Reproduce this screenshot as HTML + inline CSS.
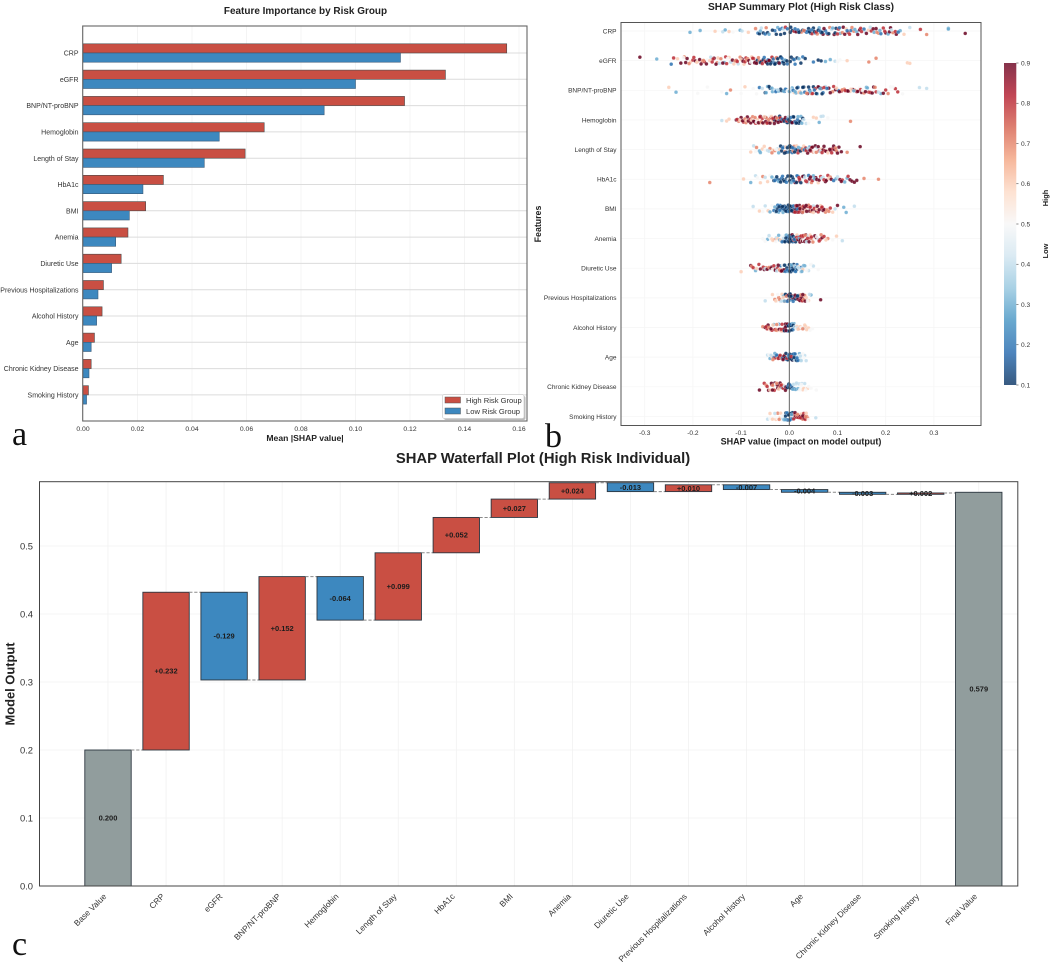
<!DOCTYPE html>
<html>
<head>
<meta charset="utf-8">
<title>SHAP feature importance figure</title>
<style>
html,body{margin:0;padding:0;background:#fff;}
body{width:1052px;height:964px;overflow:hidden;}
svg{display:block;filter:blur(0.3px);}
text{font-family:"Liberation Sans",Arial,sans-serif;}
.letter{font-family:"Liberation Serif","Times New Roman",serif;fill:#111;}
</style>
</head>
<body>
<svg id="figure" xmlns="http://www.w3.org/2000/svg" width="1052" height="964" viewBox="0 0 1052 964">
  <defs>
    <linearGradient id="rdbu" x1="0" y1="1" x2="0" y2="0">
      <stop offset="0" stop-color="#053061"/><stop offset="0.1" stop-color="#2166ac"/>
      <stop offset="0.2" stop-color="#4393c3"/><stop offset="0.3" stop-color="#92c5de"/>
      <stop offset="0.4" stop-color="#d1e5f0"/><stop offset="0.5" stop-color="#f7f7f7"/>
      <stop offset="0.6" stop-color="#fddbc7"/><stop offset="0.7" stop-color="#f4a582"/>
      <stop offset="0.8" stop-color="#d6604d"/><stop offset="0.9" stop-color="#b2182b"/>
      <stop offset="1" stop-color="#67001f"/>
    </linearGradient>
  </defs>
  <rect width="1052" height="964" fill="#fff"/>

  <g id="panelA"></g>
  <text x="305.5" y="14" text-anchor="middle" font-size="9.96" font-weight="bold" fill="#222">Feature Importance by Risk Group</text>
  <text x="305" y="441" text-anchor="middle" font-size="8.6" font-weight="bold" fill="#222">Mean |SHAP value|</text>
  <g>
    <rect x="444" y="396" width="81.5" height="24" rx="2" fill="#bbb"/>
    <rect x="442.5" y="394.5" width="81.5" height="24" rx="2" fill="#fff" stroke="#ccc" stroke-width="0.7"/>
    <rect x="445" y="397" width="15.5" height="6" fill="#c94f43" stroke="#555" stroke-width="0.5"/>
    <text x="466" y="403" font-size="7.6" fill="#333">High Risk Group</text>
    <rect x="445" y="408" width="15.5" height="6" fill="#3d88bf" stroke="#555" stroke-width="0.5"/>
    <text x="466" y="414" font-size="7.6" fill="#333">Low Risk Group</text>
  </g>

  <g id="panelB"></g>
  <text x="801" y="10" text-anchor="middle" font-size="10.2" font-weight="bold" fill="#222">SHAP Summary Plot (High Risk Class)</text>
  <text x="801" y="444.5" text-anchor="middle" font-size="9" font-weight="bold" fill="#222">SHAP value (impact on model output)</text>
  <text transform="translate(541,224) rotate(-90)" text-anchor="middle" font-size="8.8" font-weight="bold" fill="#222">Features</text>
  <text transform="translate(1048,198) rotate(-90)" text-anchor="middle" font-size="7.4" font-weight="bold" fill="#222">High</text>
  <text transform="translate(1048,251) rotate(-90)" text-anchor="middle" font-size="7.4" font-weight="bold" fill="#222">Low</text>

  <g id="panelC"></g>
  <text x="543" y="463" text-anchor="middle" font-size="14.8" font-weight="bold" fill="#222">SHAP Waterfall Plot (High Risk Individual)</text>
  <text transform="translate(14.5,684) rotate(-90)" text-anchor="middle" font-size="12.9" font-weight="bold" fill="#222">Model Output</text>

  <text class="letter" x="12" y="445" font-size="34">a</text>
  <text class="letter" x="545" y="447" font-size="34">b</text>
  <text class="letter" x="12" y="955" font-size="34">c</text>
</svg>

<script>
const featureNames = ["CRP","eGFR","BNP/NT-proBNP","Hemoglobin","Length of Stay","HbA1c","BMI","Anemia","Diuretic Use","Previous Hospitalizations","Alcohol History","Age","Chronic Kidney Disease","Smoking History"];

/* Panel a */
const highRiskImportance = [.1555,.133,.118,.0665,.0595,.0295,.023,.0165,.014,.0075,.007,.0042,.003,.002];
const lowRiskImportance = [.1165,.100,.0885,.050,.0445,.022,.017,.012,.0105,.0055,.005,.003,.0022,.0013];
const importanceTicks = [0,.02,.04,.06,.08,.10,.12,.14,.16];

/* Panel b: SHAP values, and feature values in tenths */
const shapCRP = [-.206,-.185,-.154,-.138,-.133,-.125,-.117,-.102,-.098,-.085,-.07,-.065,-.062,-.058,-.054,-.05,-.048,-.045,-.042,-.03,-.027,-.024,-.02,-.018,-.015,-.012,-.01,-.008,-.004,.002,.006,.01,.014,.018,.022,.025,.028,.032,.036,.04,.044,.047,.05,.054,.058,.062,.066,.07,.075,.08,.084,.088,.093,.097,.102,.106,.112,.118,.122,.128,.134,.14,.146,.15,.158,.164,.17,.176,.18,.185,.19,.195,.2,.205,.21,.215,.222,.23,.238,.25,.272,.285,.33,.33,.365,
.003,.012,.02,.03,.038,.042,.046,.052,.056,.06,.064,.068,.072,.078,.082,.09,.095,.1,.104,.11,.115,.12,.125,.13,.136,.142,.148,.155,.16,.168,.174,.182,.188,.198,.208,.212,.22,.226,-.035,-.06];
const featCRP = [3,3,6,4,3,6,5,3,4,6,7,2,1,4,1,2,7,1,3,2,1,3,2,1,2,4,1,8,2,1,1,8,9,2,1,7,1,9,2,1,2,8,1,2,7,3,1,9,2,8,7,4,9,1,8,3,9,6,8,2,7,3,9,8,4,6,8,3,9,7,2,8,9,3,9,7,9,3,6,4,8,7,3,3,9,
1,2,1,7,2,1,2,1,8,1,2,1,9,2,1,3,1,8,2,7,9,2,8,7,3,9,8,2,9,4,9,7,3,8,9,4,8,2,1,3];
const shapEGFR = [-.31,-.275,-.245,-.24,-.232,-.225,-.218,-.212,-.205,-.2,-.195,-.19,-.186,-.18,-.176,-.17,-.165,-.16,-.156,-.15,-.145,-.14,-.135,-.13,-.125,-.12,-.115,-.11,-.106,-.102,-.098,-.094,-.09,-.086,-.082,-.078,-.074,-.07,-.066,-.062,-.058,-.054,-.05,-.047,-.044,-.041,-.038,-.035,-.032,-.029,-.026,-.023,-.02,-.017,-.014,-.011,-.008,-.004,.004,.008,.012,.016,.02,.024,.028,.033,.05,.06,.066,.075,.085,.095,.1,.105,.12,.165,.18,.245,.25,
-.22,-.215,-.208,-.198,-.192,-.183,-.178,-.172,-.163,-.158,-.152,-.148,-.142,-.138,-.132,-.128,-.122,-.118,-.112,-.108,-.1,-.096,-.092,-.088,-.084,-.08,-.076,-.072,-.068,-.064,-.06,-.056,-.052,-.048,-.045,-.042,-.039,-.036,-.033,-.03,-.027,-.024,-.021,-.018,-.015,-.012,-.009,-.005,.002,.01];
const featEGFR = [9,3,2,8,6,9,7,9,6,8,9,6,9,7,8,5,6,8,9,7,4,5,3,8,6,4,6,8,4,7,9,6,8,7,9,6,8,9,1,7,9,1,8,1,2,9,1,7,2,1,8,1,3,1,2,1,1,2,1,1,2,1,3,1,2,1,2,1,1,3,3,4,5,5,6,7,7,6,6,
5,9,7,8,6,9,7,9,4,8,9,6,7,9,8,5,4,9,7,8,6,9,8,7,9,5,8,10,9,7,1,8,2,9,1,10,1,8,2,1,7,1,9,1,2,1,3,1,1,2];
const shapBNP = [-.25,-.235,-.19,-.17,-.14,-.13,-.122,-.1,-.092,-.075,-.068,-.062,-.056,-.05,-.045,-.04,-.035,-.03,-.026,-.022,-.018,-.014,-.01,-.006,-.002,.002,.006,.01,.014,.018,.022,.026,.03,.034,.038,.042,.046,.05,.054,.058,.062,.066,.07,.075,.082,.09,.096,.102,.108,.114,.12,.126,.132,.136,.14,.146,.15,.155,.16,.165,.17,.175,.18,.19,.2,.205,.21,.22,.235,.27,.285,
-.048,-.042,-.036,-.028,-.024,-.016,-.012,-.008,-.004,0,.004,.008,.012,.016,.02,.024,.028,.032,.036,.04,.044,.048,.052,.056,.06,.064,.068,.072,.078,.085,.092,.098,.104,.11,.116,.122,.128,.134,.142,.148,.152,.158,.162,.168,.172,.178,.185,.195,.215,.225];
const featBNP = [6,3,5,5,5,3,7,5,6,5,5,2,4,1,3,1,3,4,2,3,1,6,2,3,5,4,3,6,3,2,7,4,1,6,9,2,7,1,8,3,1,9,2,4,9,7,9,2,8,7,9,6,9,7,8,5,9,7,3,8,4,9,8,3,8,7,5,8,5,4,4,
3,1,3,2,4,1,3,2,5,3,4,2,3,1,6,3,1,2,7,1,3,8,2,1,9,3,1,8,2,9,8,6,9,7,8,9,6,3,9,8,5,9,3,8,9,7,4,9,5,8];
const shapHb = [-.14,-.13,-.125,-.11,-.105,-.1,-.095,-.09,-.087,-.083,-.08,-.076,-.073,-.07,-.066,-.063,-.06,-.056,-.053,-.05,-.047,-.044,-.041,-.038,-.035,-.032,-.03,-.027,-.024,-.021,-.018,-.016,-.013,-.011,-.008,-.006,-.004,-.002,.002,.005,.008,.011,.014,.017,.02,.024,.028,.035,.05,.056,.062,.07,.08,.127,
-.108,-.102,-.097,-.092,-.088,-.085,-.081,-.078,-.074,-.071,-.068,-.064,-.061,-.058,-.055,-.052,-.049,-.046,-.043,-.04,-.037,-.034,-.031,-.029,-.026,-.023,-.02,-.019,-.017,-.015,-.012,-.01,-.009,-.007,-.005,-.003,-.001,.001,.003,.004,.006,.009,.012,.015,.018,.022,.026,.03,.04,.066];
const featHb = [4,6,6,9,7,9,8,7,9,6,9,7,9,8,6,7,9,8,6,9,7,9,5,8,6,9,1,9,7,2,9,1,8,1,9,2,1,4,1,2,1,8,1,2,1,3,1,4,6,6,3,4,5,7,
8,6,9,7,6,9,8,6,9,7,5,9,8,7,9,6,10,8,7,9,6,8,9,10,7,9,1,8,10,2,9,1,10,1,8,2,1,1,2,1,9,1,2,1,3,1,3,4,5,4];
const shapLOS = [-.08,-.074,-.068,-.062,-.056,-.05,-.045,-.04,-.034,-.03,-.025,-.02,-.016,-.012,-.009,-.006,-.003,.002,.006,.01,.014,.018,.022,.026,.03,.034,.038,.042,.046,.05,.054,.058,.062,.066,.07,.074,.078,.082,.086,.09,.094,.098,.103,.108,.12,.147,
-.07,-.06,-.052,-.042,-.036,-.028,-.022,-.018,-.014,-.01,-.007,-.004,-.001,.001,.004,.008,.012,.016,.02,.024,.028,.032,.036,.04,.044,.048,.052,.056,.06,.064,.068,.072,.076,.08,.084,.088,.092,.096,.1,.003,.007,.011,.015,.019,.023,.027,.031,.035,.039,.043];
const featLOS = [6,4,7,3,6,5,4,7,6,7,4,6,1,2,7,1,3,1,2,7,4,8,2,5,6,8,9,3,8,7,9,4,8,6,9,8,5,6,9,8,9,7,9,9,7,10,
5,3,6,4,7,5,3,1,2,1,6,1,2,1,1,7,2,1,8,3,7,6,1,2,8,9,5,7,9,4,8,10,9,6,9,8,10,7,9,1,2,1,6,3,1,7,2,8,4,9];
const shapHbA1c = [-.165,-.095,-.08,-.07,-.066,-.06,-.055,-.05,-.045,-.04,-.036,-.032,-.028,-.024,-.02,-.016,-.012,-.008,-.005,-.002,.002,.006,.01,.014,.018,.022,.026,.03,.034,.038,.042,.046,.05,.055,.06,.065,.07,.075,.08,.085,.09,.097,.105,.11,.12,.126,.14,.155,.185,
-.03,-.026,-.022,-.018,-.014,-.01,-.006,-.003,.001,.004,.008,.012,.016,.02,.024,.028,.032,.036,.04,.044,.048,.052,.057,.062,.067,.072,.077,.082,.087,.092,.1,.108,.115,.122,.13,.135,.003,.009,.015,.021];
const featHbA1c = [7,6,3,4,5,6,7,4,6,5,3,1,3,2,1,2,1,3,1,5,2,1,4,8,2,9,5,1,8,4,9,7,3,9,6,8,4,9,8,7,5,3,9,8,3,9,9,7,7,
2,1,3,1,2,1,2,1,1,3,1,9,2,8,1,9,4,8,2,9,8,3,10,9,4,8,10,6,9,2,4,9,3,8,9,9,1,2,1,8];
const shapBMI = [-.075,-.062,-.055,-.05,-.044,-.04,-.036,-.032,-.028,-.025,-.022,-.019,-.016,-.013,-.01,-.008,-.005,-.002,.001,.004,.007,.01,.013,.016,.019,.022,.026,.03,.034,.038,.042,.046,.05,.055,.06,.065,.07,.075,.08,.09,.1,.113,.118,.135,
-.03,-.027,-.024,-.021,-.018,-.015,-.012,-.009,-.006,-.004,-.002,0,.002,.003,.005,.006,.008,.009,.011,.012,.014,.015,.017,.018,.02,.021,.024,.027,.029,.032,.036,.04,.044,.048,.052,.057,.062,.067,.072,.078,.085,.095,-.02,-.014,-.007,-.001,.001,.004,.01,.016,.005,.012,.022,.028,.035,.043,.05,.058,.068,.082];
const featBMI = [4,6,5,4,6,3,5,2,4,1,3,2,1,3,1,2,1,1,2,1,8,2,1,9,3,8,7,9,6,8,9,7,4,9,8,6,9,7,5,6,9,3,3,4,
3,1,2,1,3,1,2,1,1,2,1,1,2,1,1,8,1,2,9,1,8,1,9,2,8,9,7,9,8,9,9,7,8,9,8,6,9,8,9,7,8,4,2,1,1,2,1,1,9,9,1,8,9,7,9,8,6,9,8,7];
const shapAnemia = [-.055,-.045,-.04,-.036,-.03,-.027,-.024,-.02,-.017,-.014,-.011,-.008,-.005,-.002,.001,.004,.007,.01,.013,.016,.019,.022,.025,.028,.031,.034,.037,.04,.044,.048,.052,.056,.06,.064,.068,.08,.09,.098,.11,
-.05,-.042,-.034,-.028,-.022,-.018,-.015,-.012,-.009,-.006,-.003,0,.002,.003,.005,.006,.008,.009,.011,.012,.014,.015,.017,.018,.02,.021,.023,.024,.026,.027,.029,.03,.032,.033,.035,.036,.038,.041,.043,.046,.049,.053,.057,.062,.066,.072,.076,-.007,.001,.01];
const featAnemia = [5,3,5,6,7,4,6,3,5,2,1,4,2,1,1,9,2,8,1,6,3,9,7,8,5,9,4,6,8,7,5,9,4,8,9,7,5,6,4,
5,4,6,5,3,6,2,4,1,3,2,1,1,2,1,9,1,8,2,9,1,8,7,9,8,3,9,8,6,9,8,5,9,7,9,4,8,9,6,8,7,9,5,8,7,8,6,1,1,2];
const shapDiuretic = [-.1,-.08,-.078,-.07,-.063,-.057,-.052,-.048,-.044,-.04,-.037,-.034,-.03,-.027,-.024,-.021,-.018,-.015,-.012,-.009,-.006,-.003,.001,.004,.007,.01,.013,.016,.02,.024,.03,.034,.04,.046,.05,.06,
-.075,-.068,-.06,-.054,-.05,-.046,-.042,-.038,-.035,-.032,-.029,-.026,-.023,-.02,-.017,-.014,-.011,-.008,-.005,-.002,0,.002,.003,.005,.006,.008,.009,.011,.012,.014,.015,.017,.018,.021,.022,.025,.027,.028,.032,.036,-.016,-.01,-.004,.001,.004,.007,.013,.019,.026,.044];
const featDiuretic = [6,9,7,3,8,5,9,7,8,4,9,6,9,4,8,6,2,9,1,3,1,4,1,2,5,1,3,2,6,4,3,5,4,5,4,5,
8,6,9,8,4,9,7,9,5,8,9,4,9,7,8,5,9,2,1,3,1,2,1,3,1,2,1,4,1,2,3,1,4,3,5,2,4,6,3,5,9,1,2,1,3,1,2,4,3,5];
const shapPrev = [-.05,-.035,-.03,-.026,-.022,-.018,-.015,-.012,-.01,-.007,-.004,-.002,.001,.003,.005,.008,.01,.012,.015,.017,.02,.023,.026,.029,.032,.036,.04,.045,.065,
-.028,-.024,-.02,-.016,-.013,-.01,-.008,-.006,-.004,-.002,0,.001,.002,.004,.005,.006,.007,.009,.01,.011,.013,.014,.016,.018,.019,.021,.022,.024,.025,.027,.028,.03,.033,.035,.038,.042,.003,.008,.012,.017];
const featPrev = [4,6,7,5,7,4,6,3,7,1,4,9,1,2,9,1,8,2,1,9,3,8,9,9,7,4,6,3,10,
6,5,7,4,6,3,1,7,2,9,1,3,1,9,2,1,8,1,2,9,1,8,2,9,3,8,9,7,9,8,9,7,9,6,5,4,1,2,9,1];
const shapAlcohol = [-.055,-.05,-.046,-.044,-.04,-.036,-.032,-.028,-.025,-.022,-.019,-.016,-.013,-.01,-.008,-.006,-.003,.001,.004,.007,.01,.014,.018,.022,.026,.03,.034,.04,.048,
-.048,-.042,-.038,-.034,-.03,-.027,-.024,-.021,-.018,-.015,-.012,-.01,-.008,-.006,-.004,-.002,0,.002,.003,.005,.006,.008,.009,.011,.012,.014,.016,.017,.02,.023,.025,.028,.032,.036,.043,-.026,-.017,-.007,.001,.018];
const featAlcohol = [7,9,8,9,6,8,3,7,6,2,8,7,5,10,9,1,2,1,1,2,3,5,6,6,7,4,6,6,5,
8,7,9,6,8,7,5,9,6,8,9,1,10,2,9,1,1,2,1,1,3,1,2,4,3,5,6,4,7,6,5,7,6,6,5,7,8,10,2,6];
const shapAge = [-.045,-.04,-.036,-.032,-.03,-.027,-.024,-.021,-.018,-.015,-.012,-.009,-.006,-.003,.001,.004,.007,.01,.013,.016,.02,.024,.028,.032,.035,
-.042,-.038,-.034,-.03,-.026,-.023,-.02,-.017,-.014,-.011,-.008,-.005,-.002,0,.002,.003,.005,.006,.008,.009,.011,.012,.014,.015,.017,.018,.021,.022,.025,.027,-.019,-.013,-.007,-.001,.001,.004,.01,.016,.023,.03];
const featAge = [4,3,6,2,8,2,7,9,6,3,9,7,2,1,1,2,9,1,3,2,4,3,5,4,4,
5,4,7,3,2,8,9,7,2,9,1,8,3,1,2,1,9,1,2,1,4,2,3,1,4,2,3,5,4,5,8,9,1,2,1,8,1,2,4,5];
const shapCKD = [-.062,-.052,-.048,-.043,-.04,-.036,-.033,-.03,-.027,-.024,-.021,-.018,-.015,-.012,-.009,-.006,-.003,.001,.004,.008,.012,.016,.02,.024,.028,.032,.038,.056,
-.046,-.04,-.037,-.034,-.031,-.028,-.025,-.022,-.019,-.016,-.013,-.01,-.007,-.004,-.002,0,.002,.003,.005,.006,.009,.01,.013,.014,.018,.022,.026,.03,.034,.04,-.035,-.026,-.017,-.008,-.001,.001,.007,.015,.025,.045];
const featCKD = [10,8,7,9,5,8,6,9,4,9,7,8,3,6,9,1,2,1,3,4,3,5,4,5,6,4,6,5,
8,6,9,7,8,5,9,6,10,7,8,4,9,1,2,1,1,3,2,1,4,2,3,4,3,5,4,6,5,5,9,7,8,9,1,2,3,4,5,5];
const shapSmoking = [-.045,-.04,-.033,-.028,-.024,-.02,-.016,-.012,-.009,-.007,-.005,-.003,-.001,.001,.003,.005,.008,.011,.014,.017,.02,.023,.026,.029,.032,.036,.055,.001,
-.04,-.035,-.03,-.025,-.021,-.018,-.014,-.011,-.008,-.006,-.004,-.002,0,.002,.004,.006,.007,.009,.01,.012,.013,.015,.016,.018,.019,.021,.022,.024,.025,.027,.028,.03,.031,.033,.035,.038,.04,-.015,-.009,-.005,-.001,.001,.003,.005,.009,.012,.017,.023,.028,.034];
const featSmoking = [4,6,5,6,7,6,5,4,2,1,3,1,2,1,2,3,8,7,9,8,7,9,8,7,6,7,4,10,
5,6,4,5,7,6,4,3,1,2,3,1,2,2,1,2,1,8,3,7,9,8,7,9,8,7,9,8,6,9,7,8,9,8,6,7,5,5,3,2,1,2,1,3,8,9,7,8,9,7];
const jitterOffsets = [.05,-.09,.12,-.02,.08,-.13,.01,.1,-.06,.03,-.11,.13,-.04,.07,-.1,.02,.11,-.07,.04,-.12,.09,-.03,.06,-.14,0,.12,-.08,.05,-.01];
const summaryTicks = [-.3,-.2,-.1,0,.1,.2,.3];
const colorbarTicks = [.1,.2,.3,.4,.5,.6,.7,.8,.9];

/* Panel c */
const waterfallNames = ["Base Value","CRP","eGFR","BNP/NT-proBNP","Hemoglobin","Length of Stay","HbA1c","BMI","Anemia","Diuretic Use","Previous Hospitalizations","Alcohol History","Age","Chronic Kidney Disease","Smoking History","Final Value"];
const baseValue = .200;
const contributions = [.232,-.129,.152,-.064,.099,.052,.027,.024,-.013,.010,-.007,-.004,-.003,.002];
const finalValue = .579;
const outputTicks = [0,.1,.2,.3,.4,.5];

const NS = "http://www.w3.org/2000/svg";
function mk(parent, tag, attrs, txt) {
  const el = document.createElementNS(NS, tag);
  for (const k in attrs) el.setAttribute(k, attrs[k]);
  if (txt !== undefined) el.textContent = txt;
  parent.appendChild(el);
  return el;
}
const RED = "#c94f43", BLUE = "#3d88bf", GREY = "#919d9d", EDGE = "#2c3640";

/* ---------- Panel a ---------- */
const gA = document.getElementById("panelA");
const ax = v => 83 + v * 2725;
const ay = i => 53 + i * 26.3;
importanceTicks.forEach(t => {
  const g = mk(gA, "line", {x1: ax(t), x2: ax(t), y1: 26, y2: 421, stroke: "#f0f0f0", "stroke-width": .7});
  
  
  const l = mk(gA, "text", {x: ax(t), y: 431, "text-anchor": "middle", "font-size": 6.8, fill: "#333"}, t.toFixed(2));
  
  
});
featureNames.forEach((n, i) => {
  const g = mk(gA, "line", {x1: 83, x2: 527, y1: ay(i), y2: ay(i), stroke: "#dcdcdc", "stroke-width": 1});
  
  
  const hi = mk(gA, "rect", {x: ax(0), y: ay(i) - 9.2, width: ax(highRiskImportance[i]) - ax(0), height: 9.2, fill: RED, stroke: "#4a4a4a", "stroke-width": .6});
  
  
  const lo = mk(gA, "rect", {x: ax(0), y: ay(i), width: ax(lowRiskImportance[i]) - ax(0), height: 9.2, fill: BLUE, stroke: "#3a5a78", "stroke-width": .6});
  
  
  const l = mk(gA, "text", {x: 78.5, y: ay(i) + 2.6, "text-anchor": "end", "font-size": 7, fill: "#333"}, n);
  
  
});
const frameA = mk(gA, "rect", {x: 82.7, y: 26, width: 444.3, height: 395, fill: "none", stroke: "#666", "stroke-width": 1.1});



/* ---------- Panel b ---------- */
const gB = document.getElementById("panelB");
const bx = v => 789.3 + v * 482;
const by = i => 31 + i * 29.65;
const cmapStops = [[5,48,97],[33,102,172],[67,147,195],[146,197,222],[209,229,240],[247,247,247],[253,219,199],[244,165,130],[214,96,77],[178,24,43],[103,0,31]];
function cmap(v) {
  const t = Math.max(0, Math.min(1, (v - .1) / .8)) * 10;
  const i = Math.min(9, Math.floor(t)), f = t - i;
  const a = cmapStops[i], b = cmapStops[i + 1];
  return "rgb(" + a.map((c, k) => Math.round(c + (b[k] - c) * f)).join(",") + ")";
}
summaryTicks.forEach(t => {
  const g = mk(gB, "line", {x1: bx(t), x2: bx(t), y1: 22, y2: 425.5, stroke: "#f5f5f5", "stroke-width": .7});
  
  
  const l = mk(gB, "text", {x: bx(t), y: 435, "text-anchor": "middle", "font-size": 6.6, fill: "#333"}, t.toFixed(1));
  
  
});
const shapRows = [shapCRP,shapEGFR,shapBNP,shapHb,shapLOS,shapHbA1c,shapBMI,shapAnemia,shapDiuretic,shapPrev,shapAlcohol,shapAge,shapCKD,shapSmoking];
const featRows = [featCRP,featEGFR,featBNP,featHb,featLOS,featHbA1c,featBMI,featAnemia,featDiuretic,featPrev,featAlcohol,featAge,featCKD,featSmoking];
featureNames.forEach((n, r) => {
  const g = mk(gB, "line", {x1: 621, x2: 981, y1: by(r), y2: by(r), stroke: "#f5f5f5", "stroke-width": .7});
  
  
  const l = mk(gB, "text", {x: 616.5, y: by(r) + 2.3, "text-anchor": "end", "font-size": 6.5, fill: "#333"}, n);
  
  
});
shapRows.forEach((vals, r) => {
  const feats = featRows[r];
  vals.forEach((v, i) => {
    const f = feats[i % feats.length] / 10;
    const j = jitterOffsets[(i * 3 + r * 5) % jitterOffsets.length];
    const dot = mk(gB, "circle", {cx: bx(v), cy: by(r) + j * 27, r: 1.8, fill: cmap(f), "fill-opacity": .85, stroke: "#fff", "stroke-width": .15});
    
    
  });
});
const zeroLine = mk(gB, "line", {x1: bx(0), x2: bx(0), y1: 22, y2: 425.5, stroke: "#555", "stroke-width": .9});


const frameB = mk(gB, "rect", {x: 621, y: 22.5, width: 360, height: 403, fill: "none", stroke: "#555", "stroke-width": 1});


const cy = v => 385 - (v - .1) * 402.5;
const cbar = mk(gB, "rect", {x: 1004, y: cy(.9), width: 12.3, height: cy(.1) - cy(.9), fill: "url(#rdbu)", "fill-opacity": .8});


colorbarTicks.forEach(t => {
  const m = mk(gB, "line", {x1: 1016.3, x2: 1018.5, y1: cy(t), y2: cy(t), stroke: "#444", "stroke-width": .6});
  
  
  const l = mk(gB, "text", {x: 1021, y: cy(t) + 2.4, "font-size": 6.6, fill: "#333"}, t.toFixed(1));
  
  
});

/* ---------- Panel c ---------- */
const gC = document.getElementById("panelC");
const cxp = i => 108 + i * 58.05;
const cyp = v => 886 - v * 680;
const BW = 46.4;
outputTicks.forEach(t => {
  const g = mk(gC, "line", {x1: 40, x2: 1018, y1: cyp(t), y2: cyp(t), stroke: "#f3f3f3", "stroke-width": .8});
  
  
  const l = mk(gC, "text", {x: 33, y: cyp(t) + 3.5, "text-anchor": "end", "font-size": 9.4, fill: "#333"}, t.toFixed(1));
  
  
});
waterfallNames.forEach((n, i) => {
  const g = mk(gC, "line", {x1: cxp(i), x2: cxp(i), y1: 482, y2: 886, stroke: "#f1f1f1", "stroke-width": .8});
  
  
  const l = mk(gC, "text", {transform: "translate(" + (cxp(i) - 1) + ",897) rotate(-45)", "text-anchor": "end", "font-size": 8.3, fill: "#333"}, n);
  
  
});
function wfBar(i, v0, v1, fill, label) {
  const top = Math.max(v0, v1), bot = Math.min(v0, v1);
  const r = mk(gC, "rect", {x: cxp(i) - BW / 2, y: cyp(top), width: BW, height: cyp(bot) - cyp(top), fill: fill, stroke: EDGE, "stroke-width": .9});
  
  
  const t = mk(gC, "text", {x: cxp(i), y: cyp((top + bot) / 2) + 2.6, "text-anchor": "middle", "font-size": 7.5, "font-weight": "bold", fill: "#1c1c1c"}, label);
  
  
}
function connector(i, v) {
  const c = mk(gC, "line", {x1: cxp(i) + BW / 2, x2: cxp(i + 1) - BW / 2, y1: cyp(v), y2: cyp(v), stroke: "#8a8a8a", "stroke-width": 1, "stroke-dasharray": "3.2 1.8"});
  
  
}
let running = baseValue;
wfBar(0, 0, baseValue, GREY, baseValue.toFixed(3));
connector(0, running);
contributions.forEach((d, k) => {
  const next = running + d;
  wfBar(k + 1, running, next, d >= 0 ? RED : BLUE, (d >= 0 ? "+" : "") + d.toFixed(3));
  running = next;
  connector(k + 1, running);
});
wfBar(contributions.length + 1, 0, finalValue, GREY, finalValue.toFixed(3));
const frameC = mk(gC, "rect", {x: 39.5, y: 481.7, width: 978.3, height: 404.3, fill: "none", stroke: "#444", "stroke-width": 1});


</script>
</body>
</html>
